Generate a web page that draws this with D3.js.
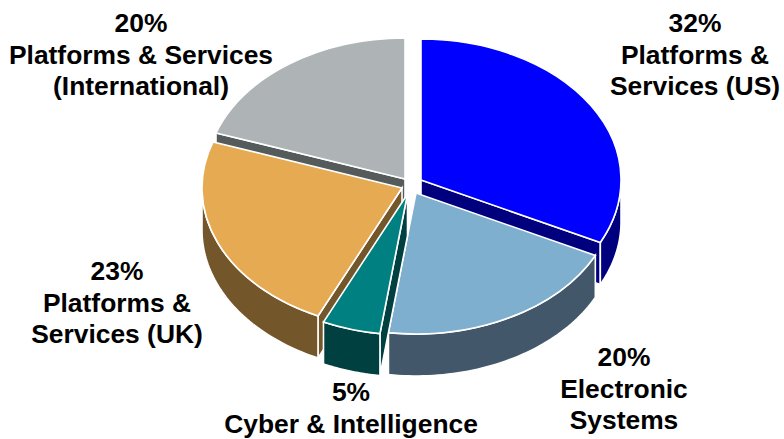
<!DOCTYPE html>
<html><head><meta charset="utf-8">
<script src="https://cdnjs.cloudflare.com/ajax/libs/d3/7.8.5/d3.min.js"></script>
<style>html,body{margin:0;padding:0;background:#fff}svg{display:block}</style>
</head><body><svg id="c" width="784" height="439"></svg>
<script>
const categories = ["Platforms & Services (US)","Electronic Systems","Cyber & Intelligence","Platforms & Services (UK)","Platforms & Services (International)"];
const values = [32.3,19.9,4.7,23.4,19.7];
const topColors = ["#0000ff","#7fafcf","#008080","#e6aa52","#aeb4b6"];
const sideColors = ["#00007f","#42586a","#004040","#73562a","#555a5a"];
const centers = [[421,180],[416,193],[407.5,194],[402,188],[405,179]];
const labelLines = [["32%","Platforms &","Services (US)"],["20%","Electronic","Systems"],["5%","Cyber & Intelligence"],["23%","Platforms &","Services (UK)"],["20%","Platforms & Services","(International)"]];
const labelPos = [[695,32],[624,366],[351,401],[117,280],[141,32]];
const drawOrder = [4,0,3,1,2];
const rx=200, ry=141, depth=42, lh=31.5;

const svg=d3.select("#c");
const pie=d3.pie().sort(null).value(d=>d);
const arcs=pie(values);
const arcGen=d3.arc().innerRadius(0).outerRadius(rx);
const pt=(c,a,dz=0)=>[c[0]+rx*Math.sin(a), c[1]-ry*Math.cos(a)+dz];
const applyFace=s=>s.attr("stroke","#fff").attr("stroke-width",1.6).attr("stroke-linejoin","miter");

drawOrder.forEach(i=>{
  const a=arcs[i], c=centers[i];
  const g=svg.append("g");
  const radial=ang=>{
    const pe=pt(c,ang);
    const q=[[c[0],c[1]],pe,[pe[0],pe[1]+depth],[c[0],c[1]+depth]];
    applyFace(g.append("path").attr("d",d3.line()(q)+"Z").attr("fill",sideColors[i]));
  };
  // radial walls that face the viewer
  if(Math.sin(a.endAngle)>0.01) radial(a.endAngle);
  if(Math.sin(a.startAngle)<-0.01) radial(a.startAngle);
  // outer wall: the front half of the rim
  const s=Math.max(a.startAngle,Math.PI/2), e=Math.min(a.endAngle,3*Math.PI/2);
  if(e>s){
    const ang=d3.range(0,1.0001,0.02).map(t=>s+(e-s)*t);
    const q=ang.map(t=>pt(c,t)).concat(ang.slice().reverse().map(t=>pt(c,t,depth)));
    applyFace(g.append("path").attr("d",d3.line()(q)+"Z").attr("fill",sideColors[i]));
  }
  applyFace(g.append("path").attr("d",arcGen(a))
    .attr("transform",`translate(${c[0]},${c[1]}) scale(1,${ry/rx})`)
    .attr("fill",topColors[i]).attr("vector-effect","non-scaling-stroke"));
});

labelLines.forEach((lines,i)=>{
  const t=svg.append("text").attr("text-anchor","middle")
    .attr("font-family","'Liberation Sans',Arial,sans-serif").attr("font-weight","bold")
    .attr("font-size",26.4).attr("fill","#000");
  lines.forEach((l,j)=>t.append("tspan").attr("x",labelPos[i][0]).attr("y",labelPos[i][1]+j*lh).text(l));
});
</script></body></html>
